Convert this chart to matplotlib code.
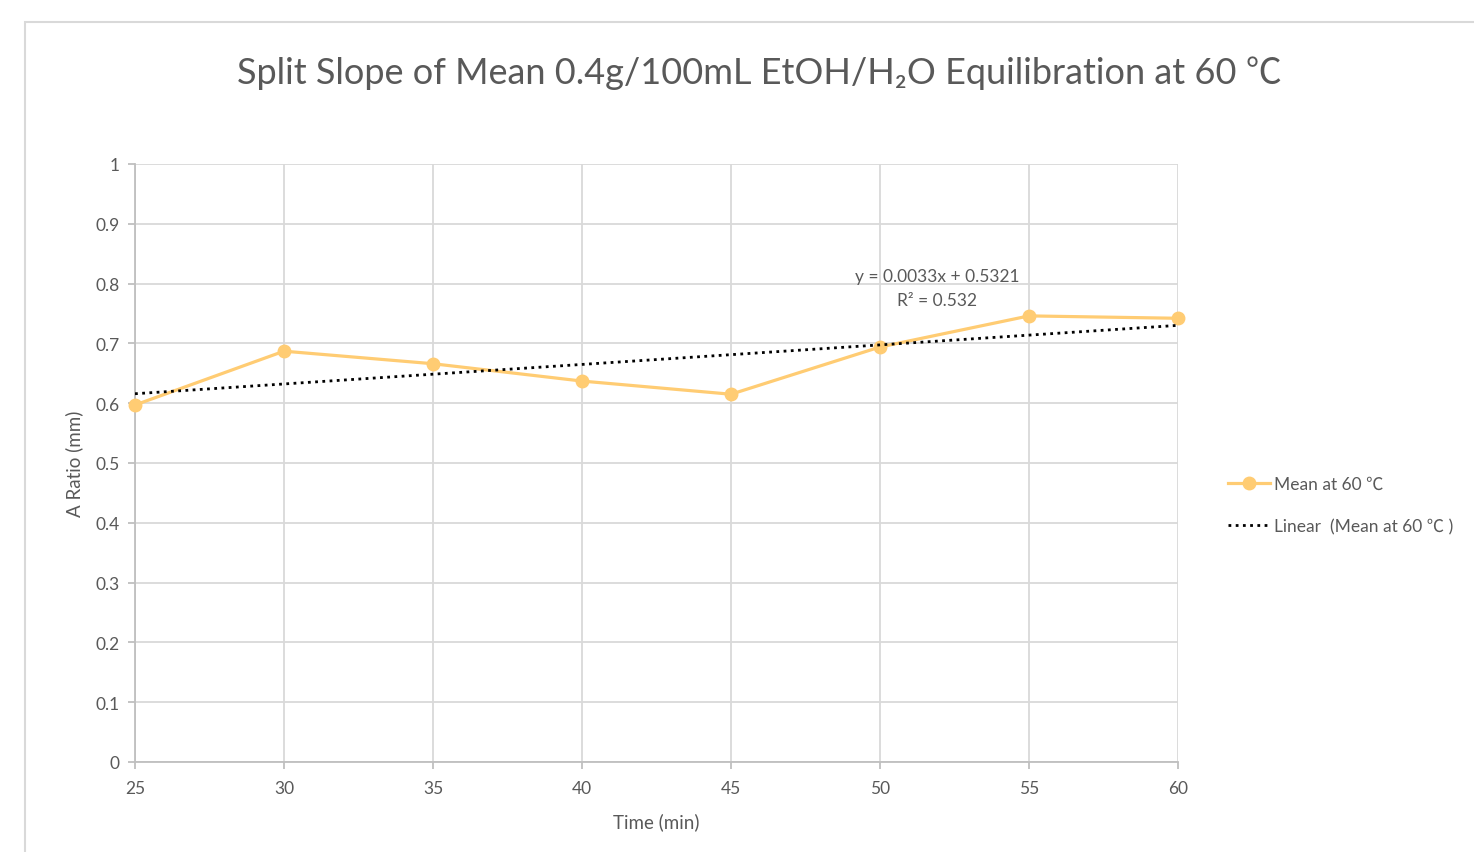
import matplotlib
matplotlib.use("Agg")
import matplotlib.pyplot as plt
from matplotlib.patches import Rectangle
import numpy as np

plt.rcParams['font.family'] = ['Lato', 'Noto Sans CJK SC', 'DejaVu Sans']

time_min = [25, 30, 35, 40, 45, 50, 55, 60]
mean_60 = [0.597, 0.687, 0.666, 0.637, 0.615, 0.694, 0.746, 0.742]
y_ticks = [0, 0.1, 0.2, 0.3, 0.4, 0.5, 0.6, 0.7, 0.8, 0.9, 1]
y_tick_labels = ["0", "0.1", "0.2", "0.3", "0.4", "0.5", "0.6", "0.7", "0.8", "0.9", "1"]
title = "Split Slope of Mean 0.4g/100mL EtOH/H₂O Equilibration at 60 ℃"
series_label = "Mean at 60 ℃"
trend_label = "Linear  (Mean at 60 ℃ )"
eq_text = "y = 0.0033x + 0.5321"
r2_text = "R² = 0.532"

line_color = "#FFCC73"
text_color = "#595959"
grid_color = "#D9D9D9"

fig = plt.figure(figsize=(14.74, 8.53), dpi=100)
fig.patch.set_facecolor("white")
# outer chart border
fig.add_artist(Rectangle((25/1474, -0.1), 1.2, 1 - 23/853 + 0.1, transform=fig.transFigure,
                         fill=False, edgecolor="#D9D9D9", linewidth=1.5))

ax = fig.add_axes([135/1474, 1 - 763/853, (1178 - 135)/1474, (763 - 165)/853])

x = np.array(time_min, dtype=float)
y = np.array(mean_60)
coef = np.polyfit(x, y, 1)
xx = np.array([x.min(), x.max()])

ax.plot(x, y, color=line_color, linewidth=2.3, marker="o", markersize=9,
        markerfacecolor=line_color, markeredgecolor=line_color, label=series_label, zorder=3,
        clip_on=False)
ax.plot(xx, np.polyval(coef, xx), color="black", linewidth=2.0, linestyle=(0, (1, 1.6)),
        label=trend_label, zorder=4)

ax.set_xlim(25, 60)
ax.set_ylim(0, 1)
ax.set_xticks(time_min)
ax.set_yticks(y_ticks)
ax.set_yticklabels(y_tick_labels)
ax.grid(True, color=grid_color, linewidth=1.3)
ax.set_axisbelow(True)
for s in ["top", "right"]:
    ax.spines[s].set_visible(False)
for s in ["left", "bottom"]:
    ax.spines[s].set_color("#BFBFBF")
    ax.spines[s].set_linewidth(1.3)
ax.tick_params(axis="both", colors="#BFBFBF", labelcolor=text_color, labelsize=12.5,
               length=5, width=1.3)
ax.tick_params(axis="x", pad=8)
ax.tick_params(axis="y", pad=6)

ax.set_xlabel("Time (min)", color=text_color, fontsize=13.5, labelpad=12)
ax.set_ylabel("A Ratio (mm)", color=text_color, fontsize=13.5, labelpad=9)

fig.text(0.5155, 1 - 73/853, title, ha="center", va="center", fontsize=26, color=text_color)

eq_x = 25 + (937 - 135) / (1178 - 135) * 35
ax.text(eq_x, (763 - 277) / 598, eq_text, ha="center", va="center",
        fontsize=12.5, color=text_color)
ax.text(eq_x, (763 - 301) / 598, r2_text, ha="center", va="center",
        fontsize=12.5, color=text_color)

leg = ax.legend(loc="center left", bbox_to_anchor=(1.033, 0.43), frameon=False,
                fontsize=12.5, handlelength=2.4, handletextpad=0.25, labelspacing=1.5,
                labelcolor=text_color)

fig.savefig("out.png", dpi=100, facecolor="white")
